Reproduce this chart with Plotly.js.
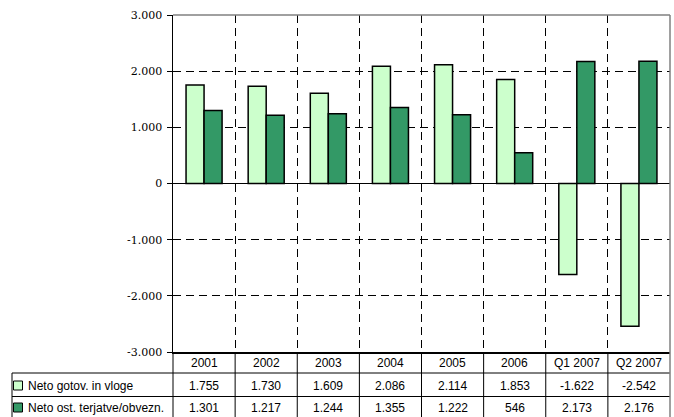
<!DOCTYPE html>
<html>
<head>
<meta charset="utf-8">
<script src="https://cdn.plot.ly/plotly-3.0.1.min.js"></script>
<style>html,body{margin:0;padding:0;background:#fff;}#chart{width:674px;height:417px;}</style>
</head>
<body>
<div id="chart"></div>
<script>
// ---- data ----
var categories = ['2001', '2002', '2003', '2004', '2005', '2006', 'Q1 2007', 'Q2 2007'];
var seriesNames = ['Neto gotov. in vloge', 'Neto ost. terjatve/obvezn.'];
var gotovVloge = [1755, 1730, 1609, 2086, 2114, 1853, -1622, -2542];
var ostTerjatve = [1301, 1217, 1244, 1355, 1222, 546, 2173, 2176];
var yTickVals = [-3000, -2000, -1000, 0, 1000, 2000, 3000];
var yTickText = ['-3.000', '-2.000', '-1.000', '0', '1.000', '2.000', '3.000'];

// ---- styling / layout ----
var colors = ['#CCFFCC', '#339966'];
var W = 674, H = 417;
var mL = 173, mR = 4, mT = 15, mB = 65;
var plotW = W - mL - mR, plotH = H - mT - mB;
function px2x(p) { return (p - mL) / plotW; }
function px2y(p) { return (H - mB - p) / plotH; }

function fmt(v) {
  var s = Math.abs(v).toString();
  var out = '';
  while (s.length > 3) { out = '.' + s.slice(-3) + out; s = s.slice(0, -3); }
  out = s + out;
  return (v < 0 ? '-' : '') + out;
}

var tableFont = {family: 'Liberation Sans', size: 12, color: '#000'};
var data = [gotovVloge, ostTerjatve].map(function (vals, k) {
  return {
    type: 'bar', x: categories, y: vals, name: seriesNames[k],
    marker: {color: colors[k], line: {color: '#000', width: 1.5}},
    hoverinfo: 'x+y'
  };
});

var shapes = [];
var annotations = [];
var yTableBottom = px2y(420);
var yLine1 = px2y(373), yLine2 = px2y(396.5);
var rowCenters = [px2y(386), px2y(408)];
var headerCenter = px2y(363);

categories.forEach(function (c, i) {
  annotations.push({x: i, xref: 'x', y: headerCenter, yref: 'paper', text: c, showarrow: false,
    font: tableFont, xanchor: 'center', yanchor: 'middle'});
  [gotovVloge, ostTerjatve].forEach(function (vals, k) {
    annotations.push({x: i, xref: 'x', y: rowCenters[k], yref: 'paper', text: fmt(vals[i]), showarrow: false,
      font: tableFont, xanchor: 'center', yanchor: 'middle'});
  });
  if (i > 0) {
    shapes.push({type: 'line', xref: 'x', yref: 'paper', x0: i - 0.5, x1: i - 0.5, y0: 0, y1: yTableBottom,
      line: {color: '#000', width: 1}});
  }
});

seriesNames.forEach(function (n, k) {
  annotations.push({x: px2x(26), xref: 'paper', y: rowCenters[k], yref: 'paper', text: n, showarrow: false,
    font: tableFont, xanchor: 'left', yanchor: 'middle'});
  var cy = [385.5, 407.5][k];
  shapes.push({type: 'rect', xref: 'paper', yref: 'paper', x0: px2x(13.5), x1: px2x(22.5),
    y0: px2y(cy - 4.5), y1: px2y(cy + 4.5), fillcolor: colors[k], line: {color: '#000', width: 1}});
});

[yLine1, yLine2].forEach(function (yy) {
  shapes.push({type: 'line', xref: 'paper', yref: 'paper', x0: px2x(12), x1: 1, y0: yy, y1: yy,
    line: {color: '#000', width: 1}});
});
shapes.push({type: 'line', xref: 'paper', yref: 'paper', x0: px2x(12), x1: px2x(12), y0: yLine1, y1: yTableBottom,
  line: {color: '#000', width: 1}});
shapes.push({type: 'line', xref: 'paper', yref: 'paper', x0: 0, x1: 0, y0: 0, y1: yTableBottom,
  line: {color: '#000', width: 1}});
shapes.push({type: 'line', xref: 'paper', yref: 'paper', x0: 0, x1: 1, y0: 1, y1: 1,
  line: {color: '#808080', width: 1.5}});
shapes.push({type: 'line', xref: 'paper', yref: 'paper', x0: 1, x1: 1, y0: 1, y1: yTableBottom,
  line: {color: '#808080', width: 1.5}});

var layout = {
  width: W, height: H,
  margin: {l: mL, r: mR, t: mT, b: mB, pad: 0},
  paper_bgcolor: '#fff', plot_bgcolor: '#fff',
  showlegend: false,
  barmode: 'group', bargap: 0.42, bargroupgap: 0,
  xaxis: {
    type: 'category', range: [-0.5, categories.length - 0.5], tickson: 'boundaries',
    showgrid: true, gridcolor: '#000', gridwidth: 1, griddash: '8px,5px',
    showticklabels: false, ticks: '', showline: true, linecolor: '#000', linewidth: 1.5,
    zeroline: false, fixedrange: true
  },
  yaxis: {
    range: [-3000, 3000], tickmode: 'array', tickvals: yTickVals, ticktext: yTickText,
    showgrid: true, gridcolor: '#000', gridwidth: 1, griddash: '8px,5px',
    zeroline: true, zerolinecolor: '#000', zerolinewidth: 1,
    showline: true, linecolor: '#000', linewidth: 1.5,
    ticks: 'outside', ticklen: 5, tickcolor: '#000', tickwidth: 1,
    ticklabelstandoff: 2,
    tickfont: {family: 'DejaVu Serif', size: 11, color: '#000'},
    fixedrange: true
  },
  shapes: shapes,
  annotations: annotations
};

Plotly.newPlot('chart', data, layout, {displayModeBar: false, staticPlot: true});
</script>
</body>
</html>
